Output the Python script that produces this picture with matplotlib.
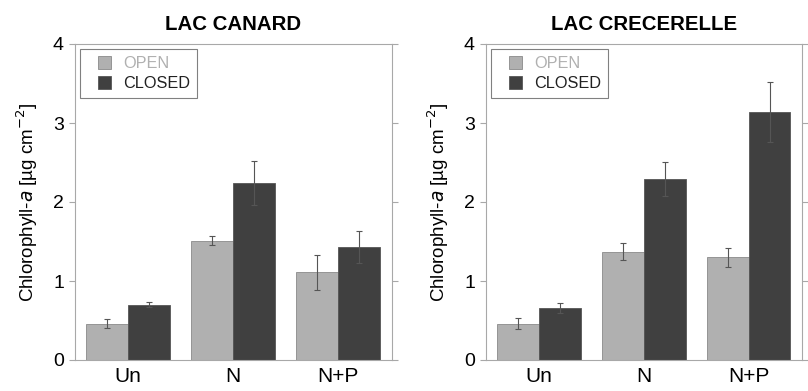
import matplotlib
matplotlib.use("Agg")
import matplotlib.pyplot as plt
from matplotlib.patches import Rectangle
from matplotlib.container import BarContainer
from matplotlib.legend_handler import HandlerPatch
import numpy as np

plt.rcParams['font.family'] = ['Liberation Sans', 'DejaVu Sans']

treatments = ['Un', 'N', 'N+P']
lakes = ['LAC CANARD', 'LAC CRECERELLE']

# mean chlorophyll-a and error (ug cm-2)
canard_open = [0.46, 1.51, 1.11]
canard_open_err = [0.06, 0.055, 0.22]
canard_closed = [0.70, 2.24, 1.43]
canard_closed_err = [0.035, 0.28, 0.20]

crec_open = [0.46, 1.37, 1.30]
crec_open_err = [0.07, 0.11, 0.12]
crec_closed = [0.66, 2.29, 3.14]
crec_closed_err = [0.065, 0.22, 0.38]

open_col = '#b0b0b0'
closed_col = '#404040'
spine_col = '#a8a8a8'


def square_patch(legend, orig_handle, xdescent, ydescent, width, height, fontsize):
    # small square swatch sitting at the right side of the handle box
    s = height * 1.1
    return Rectangle((width - s - xdescent, -ydescent + (height - s) / 2), s, s)


def first_child(legend_handle, orig_handle):
    legend_handle.update_from(orig_handle.patches[0])


fig = plt.figure(figsize=(8.08, 3.91), dpi=100)
ax1 = fig.add_axes([75/808, 1-360/391, 317/808, 316/391])
ax2 = fig.add_axes([486/808, 1-360/391, 316/808, 316/391])

data = [(canard_open, canard_open_err, canard_closed, canard_closed_err),
        (crec_open, crec_open_err, crec_closed, crec_closed_err)]

x = np.arange(len(treatments))
w = 0.4
for ax, lake, (o, oe, c, ce) in zip([ax1, ax2], lakes, data):
    ekw = dict(ecolor='#555555', elinewidth=0.8, capsize=2, capthick=0.8)
    ax.bar(x - w/2, o, w, yerr=oe, color=open_col, edgecolor='#8a8a8a',
           linewidth=0.6, error_kw=ekw, label='OPEN')
    ax.bar(x + w/2, c, w, yerr=ce, color=closed_col, edgecolor='#555555',
           linewidth=0.6, error_kw=ekw, label='CLOSED')
    ax.set_xlim(-0.505, 2.51)
    ax.set_ylim(0, 4)
    ax.set_yticks([0, 1, 2, 3, 4])
    ax.set_xticks(x)
    ax.set_xticklabels(treatments, fontsize=15)
    ax.tick_params(axis='x', length=0, pad=5)
    ax.tick_params(axis='y', which='both', left=True, right=True,
                   direction='out', length=4, color=spine_col,
                   labelsize=14, pad=4)
    for s in ax.spines.values():
        s.set_color(spine_col)
        s.set_linewidth(0.8)
    ax.set_title(lake, fontsize=14.7, fontweight='bold', pad=10)
    ax.set_ylabel(r'Chlorophyll-$a$ [µg cm$^{-2}$]', fontsize=13.5, labelpad=9)
    leg = ax.legend(loc='upper left', fontsize=11.7, frameon=True, fancybox=False,
                    handlelength=1.45, handleheight=0.75, handletextpad=0.75,
                    borderpad=0.45, labelspacing=0.28,
                    borderaxespad=0.3,
                    handler_map={BarContainer: HandlerPatch(patch_func=square_patch,
                                                            update_func=first_child)})
    leg.get_frame().set_edgecolor('#606060')
    leg.get_frame().set_linewidth(0.8)
    leg.get_texts()[0].set_color(open_col)
    leg.get_texts()[1].set_color('#202020')

fig.savefig('out.png', dpi=100)
